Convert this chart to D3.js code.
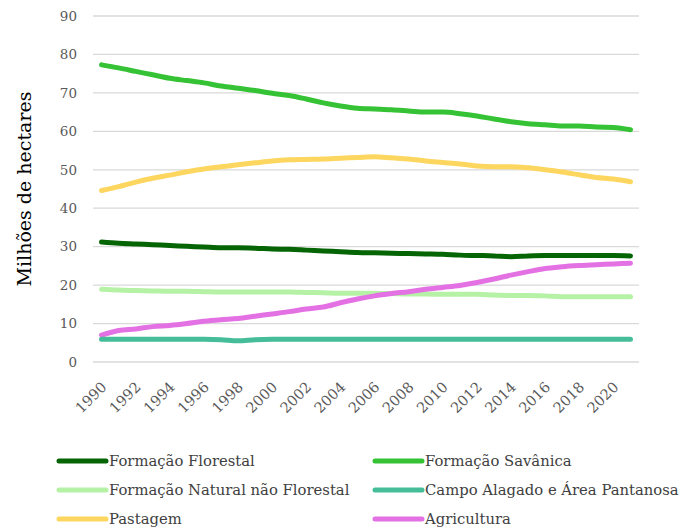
<!DOCTYPE html>
<html>
<head>
<meta charset="utf-8">
<script src="https://cdn.jsdelivr.net/npm/d3@7"></script>
<style>
  html, body { margin: 0; padding: 0; background: #fff; }
  svg { display: block; }
  svg text { font-family: 'DejaVu Serif', serif; }
</style>
</head>
<body>
<svg id="chart" width="680" height="531"></svg>
<script>
const years = d3.range(1990, 2022);
const yTicks = [0, 10, 20, 30, 40, 50, 60, 70, 80, 90];
const xTickYears = d3.range(1990, 2021, 2);

const florestal = [31.2, 30.9, 30.7, 30.5, 30.3, 30.1, 29.9, 29.7, 29.7, 29.6, 29.4, 29.3, 29.1, 28.9, 28.7, 28.5,
                   28.4, 28.3, 28.2, 28.1, 28.0, 27.8, 27.7, 27.6, 27.4, 27.6, 27.7, 27.7, 27.7, 27.7, 27.7, 27.6];
const savanica = [77.3, 76.5, 75.6, 74.7, 73.8, 73.2, 72.6, 71.8, 71.2, 70.6, 69.9, 69.3, 68.4, 67.4, 66.6, 66.0,
                  65.8, 65.6, 65.3, 65.0, 65.0, 64.6, 64.0, 63.2, 62.5, 62.0, 61.7, 61.4, 61.4, 61.1, 61.0, 60.4];
const naoFlorestal = [18.9, 18.7, 18.6, 18.5, 18.4, 18.4, 18.3, 18.2, 18.2, 18.2, 18.2, 18.2, 18.1, 18.0, 17.9, 17.9,
                      17.9, 17.8, 17.7, 17.7, 17.6, 17.6, 17.6, 17.4, 17.3, 17.3, 17.2, 17.0, 17.0, 17.0, 17.0, 17.0];
const campoAlagado = [5.9, 5.9, 5.9, 5.9, 5.9, 5.9, 5.9, 5.8, 5.5, 5.8, 5.9, 5.9, 5.9, 5.9, 5.9, 5.9,
                      5.9, 5.9, 5.9, 5.9, 5.9, 5.9, 5.9, 5.9, 5.9, 5.9, 5.9, 5.9, 5.9, 5.9, 5.9, 5.9];
const pastagem = [44.6, 45.6, 46.8, 47.8, 48.6, 49.5, 50.2, 50.8, 51.3, 51.8, 52.3, 52.6, 52.7, 52.8, 53.0, 53.2,
                  53.4, 53.1, 52.8, 52.3, 51.9, 51.5, 51.0, 50.8, 50.8, 50.5, 50.0, 49.4, 48.7, 48.0, 47.6, 46.9];
const agricultura = [7.0, 8.2, 8.6, 9.2, 9.5, 10.0, 10.6, 11.0, 11.3, 11.9, 12.5, 13.1, 13.8, 14.3, 15.4, 16.4,
                     17.2, 17.8, 18.3, 18.9, 19.4, 19.9, 20.7, 21.6, 22.6, 23.5, 24.3, 24.8, 25.1, 25.3, 25.5, 25.7];

const seriesNames = ["Formação Florestal", "Formação Savânica", "Formação Natural não Florestal",
                     "Campo Alagado e Área Pantanosa", "Pastagem", "Agricultura"];
const seriesColors = ["#056505", "#35c335", "#b5f2a5", "#44bd98", "#fcd65f", "#e371e3"];
const seriesValues = [florestal, savanica, naoFlorestal, campoAlagado, pastagem, agricultura];
const drawOrder = [1, 4, 0, 2, 5, 3];

(function () {
const svg = d3.select("#chart");
const pLeft = 93, pRight = 639, pTop = 16, pBottom = 362;

const x = d3.scaleBand().domain(years).range([pLeft, pRight]);
const y = d3.scaleLinear().domain([0, 90]).range([pBottom, pTop]);
const cx = yr => x(yr) + x.bandwidth() / 2;

svg.append("g").selectAll("line").data(yTicks).join("line")
  .attr("x1", pLeft).attr("x2", pRight)
  .attr("y1", d => y(d)).attr("y2", d => y(d))
  .attr("stroke", "#d9d9d9").attr("stroke-width", 1.3);

const yAxis = d3.axisLeft(y).tickValues(yTicks).tickSize(0).tickPadding(16);
const gy = svg.append("g").attr("transform", `translate(${pLeft},0)`).call(yAxis);
gy.select(".domain").remove();
gy.attr("font-family", null);
gy.selectAll("text").attr("font-size", 13.5).attr("fill", "#595959");

const gx = svg.append("g");
gx.selectAll("text").data(xTickYears).join("text")
  .attr("transform", d => `translate(${cx(d) + 6},${388}) rotate(-45)`)
  .attr("text-anchor", "end")
  .attr("font-size", 14.5).attr("fill", "#595959")
  .text(d => d);

svg.append("text")
  .attr("transform", `translate(31,189) rotate(-90)`)
  .attr("text-anchor", "middle")
  .attr("font-size", 19).attr("fill", "#000")
  .text("Milhões de hectares");

const line = d3.line().x((d, i) => cx(years[i])).y(d => y(d)).curve(d3.curveMonotoneX);
svg.append("g").selectAll("path").data(drawOrder).join("path")
  .attr("d", k => line(seriesValues[k]))
  .attr("fill", "none")
  .attr("stroke", k => seriesColors[k])
  .attr("stroke-width", 5)
  .attr("stroke-linecap", "round")
  .attr("stroke-linejoin", "round");

const legX = [59, 375], legY = [461, 490, 519];
const leg = svg.append("g").selectAll("g").data(seriesNames).join("g")
  .attr("transform", (d, i) => `translate(${legX[i % 2]},${legY[Math.floor(i / 2)]})`);
leg.append("line").attr("x1", 0).attr("x2", 47).attr("y1", 0).attr("y2", 0)
  .attr("stroke", (d, i) => seriesColors[i]).attr("stroke-width", 5).attr("stroke-linecap", "round");
leg.append("text").attr("x", 50).attr("y", 0).attr("dy", "0.35em")
  .attr("font-size", 14.8).attr("fill", "#404040")
  .text(d => d);
})();
</script>
</body>
</html>
